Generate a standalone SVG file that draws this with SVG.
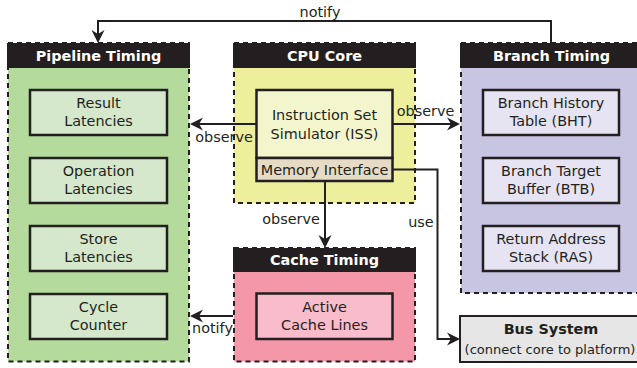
<svg xmlns="http://www.w3.org/2000/svg" width="637" height="368" viewBox="0 0 637 368">
<style>
text{font-family:"DejaVu Sans","Liberation Sans",sans-serif;font-size:14.4px;fill:#231f20;text-anchor:middle}
.hd{font-weight:bold;fill:#ffffff}
.b{font-weight:bold}
.sm{font-size:13px}
.hdr{fill:#231f20}
.body{stroke:#231f20;stroke-width:2;stroke-dasharray:5,4}
.in{stroke:#231f20;stroke-width:2.5}
.c{fill:none;stroke:#231f20;stroke-width:2}
</style>
<defs>
<marker id="ah" markerUnits="userSpaceOnUse" viewBox="-9 -7 14 14" refX="0" refY="0" markerWidth="14" markerHeight="14" orient="auto" overflow="visible">
<path d="M4,0 L-9,-6.5 L-5,0 L-9,6.5 z" fill="#231f20"/>
</marker>
</defs>

<g id="pipeline">
<rect class="body" x="8" y="43" width="181" height="318.5" fill="#b4da9c"/>
<rect class="hdr" x="7" y="43" width="183" height="25"/>
<text class="hd" x="98.5" y="60.5">Pipeline Timing</text>
<rect class="in" x="30" y="90" width="137" height="45" fill="#d5e8cc"/>
<text x="98.5" y="108">Result</text><text x="98.5" y="126">Latencies</text>
<rect class="in" x="30" y="158" width="137" height="45" fill="#d5e8cc"/>
<text x="98.5" y="176">Operation</text><text x="98.5" y="194">Latencies</text>
<rect class="in" x="30" y="226" width="137" height="45" fill="#d5e8cc"/>
<text x="98.5" y="244">Store</text><text x="98.5" y="262">Latencies</text>
<rect class="in" x="30" y="294" width="137" height="45" fill="#d5e8cc"/>
<text x="98.5" y="312">Cycle</text><text x="98.5" y="330">Counter</text>
</g>

<g id="cpu">
<rect class="body" x="234" y="43" width="181" height="160" fill="#eeef9d"/>
<rect class="hdr" x="233" y="43" width="183" height="25"/>
<text class="hd" x="324.5" y="60.5">CPU Core</text>
<rect class="in" x="256.5" y="90" width="136" height="68" fill="#f3f5cc"/>
<text x="324.5" y="120">Instruction Set</text><text x="324.5" y="139">Simulator (ISS)</text>
<rect class="in" x="256.5" y="158" width="136" height="23" fill="#e6dcc6"/>
<text x="324.5" y="174.5">Memory Interface</text>
</g>

<g id="branch">
<rect class="body" x="461" y="43" width="181" height="250" fill="#c8c5e2"/>
<rect class="hdr" x="460" y="43" width="183" height="25"/>
<text class="hd" x="551.5" y="60.5">Branch Timing</text>
<rect class="in" x="483" y="90" width="136" height="45" fill="#e6e4f2"/>
<text x="551" y="108">Branch History</text><text x="551" y="126">Table (BHT)</text>
<rect class="in" x="483" y="158" width="136" height="45" fill="#e6e4f2"/>
<text x="551" y="176">Branch Target</text><text x="551" y="194">Buffer (BTB)</text>
<rect class="in" x="483" y="226" width="136" height="45" fill="#e6e4f2"/>
<text x="551" y="244">Return Address</text><text x="551" y="262">Stack (RAS)</text>
</g>

<g id="cache">
<rect class="body" x="234" y="248" width="181" height="113.5" fill="#f497a9"/>
<rect class="hdr" x="233" y="248" width="183" height="24"/>
<text class="hd" x="324.5" y="265">Cache Timing</text>
<rect class="in" x="256.5" y="293.5" width="136" height="45.5" fill="#f8bccb"/>
<text x="324.5" y="312">Active</text><text x="324.5" y="330">Cache Lines</text>
</g>

<g id="bus">
<rect x="460" y="316" width="183" height="46" fill="#e6e6e6" stroke="#231f20" stroke-width="2"/>
<text class="b" x="551" y="334">Bus System</text>
<text class="sm" x="550" y="353.5">(connect core to platform)</text>
</g>

<g id="connectors">
<polyline class="c" points="551,43 551,21 98,21 98,39" marker-end="url(#ah)"/>
<polyline class="c" points="256.5,124 194,124" marker-end="url(#ah)"/>
<polyline class="c" points="392.5,124 456,124" marker-end="url(#ah)"/>
<polyline class="c" points="325,181 325,244" marker-end="url(#ah)"/>
<polyline class="c" points="392.5,169.5 437.5,169.5 437.5,339 456,339" marker-end="url(#ah)"/>
<polyline class="c" points="233,316 194,316" marker-end="url(#ah)"/>
<text x="320" y="17">notify</text>
<text x="224" y="142">observe</text>
<text x="425.5" y="116">observe</text>
<text x="291" y="224">observe</text>
<text x="421" y="227">use</text>
<text x="212.5" y="333">notify</text>
</g>
</svg>
